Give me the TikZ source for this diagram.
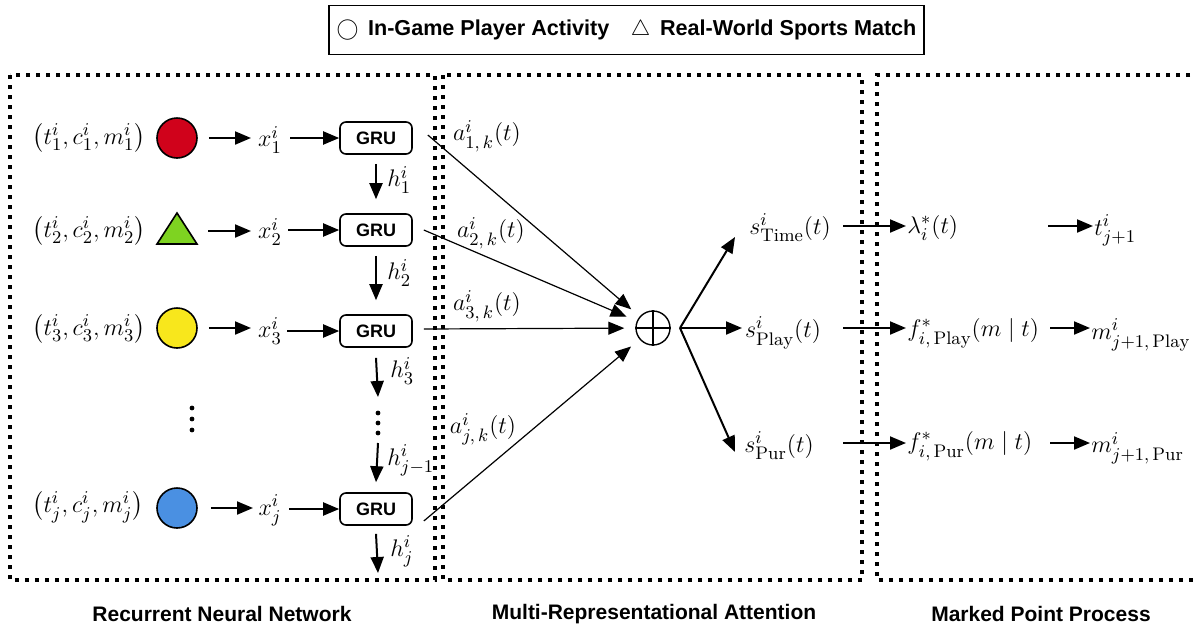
\documentclass[tikz,border=0pt]{standalone}
\usepackage{amsmath}
\usepackage{fontspec}
\setsansfont{Liberation Sans}
\usetikzlibrary{arrows.meta,calc}
\definecolor{cred}{HTML}{D0021B}
\definecolor{cgreen}{HTML}{7ED321}
\definecolor{cyellow}{HTML}{F8E71C}
\definecolor{cblue}{HTML}{4A90E2}
\tikzset{
  dotbox/.style={line width=2pt, dash pattern=on 2pt off 3pt},
  arr/.style={-{Triangle[length=8pt,width=6.5pt]}, line width=1pt},
  attn/.style={-{Triangle[length=8pt,width=6.5pt]}, line width=0.6pt},
  gru/.style={draw, rounded corners=3pt, minimum width=36pt, minimum height=16pt, line width=0.8pt, inner sep=0pt, font=\sffamily\bfseries\fontsize{9}{10}\selectfont},
  mth/.style={font=\fontsize{13}{15}\selectfont, inner sep=0.5pt},
  ev/.style={circle, draw, minimum size=20pt, inner sep=0pt, line width=0.8pt},
  title/.style={font=\sffamily\bfseries\fontsize{10.5}{12}\selectfont},
}
\begin{document}
\begin{tikzpicture}[x=0.5pt,y=-0.5pt]
\useasboundingbox (0,0) rectangle (1194,633);
% legend
\node[draw, line width=0.8pt, minimum width=297.5pt, minimum height=24.5pt, font=\sffamily\bfseries\fontsize{10.8}{13}\selectfont] (legend) at (626.5,30)
  {$\bigcirc$\, In-Game Player Activity\quad $\bigtriangleup$\, Real-World Sports Match};
% dotted boxes
\draw[dotbox] (10,75) rectangle (435,580);
\draw[dotbox] (443,75) rectangle (862,580);
\draw[dotbox] (1210,75) -- (877,75) -- (877,580) -- (1210,580);
% tuples
\node[mth] (tup1) at (89,138) {$\bigl(t_1^i, c_1^i, m_1^i\bigr)$};
\node[mth] (tup2) at (89,231) {$\bigl(t_2^i, c_2^i, m_2^i\bigr)$};
\node[mth] (tup3) at (89,329) {$\bigl(t_3^i, c_3^i, m_3^i\bigr)$};
\node[mth] (tupj) at (88,507) {$\bigl(t_j^i, c_j^i, m_j^i\bigr)$};
% events
\node[ev, fill=cred] (ev1) at (177,138) {};
\draw[line width=0.8pt, fill=cgreen] (157,244) -- (197,244) -- (177,213) -- cycle;
\coordinate (ev2) at (197,231);
\node[ev, fill=cyellow] (ev3) at (177,328) {};
\node[ev, fill=cblue] (evj) at (177,508) {};
\fill (192,408) circle (1.2pt) (192,419) circle (1.2pt) (192,430) circle (1.2pt);
% x nodes
\node[mth] (x1) at (270,140) {$x_1^i$};
\node[mth] (x2) at (270,232) {$x_2^i$};
\node[mth] (x3) at (270,331) {$x_3^i$};
\node[mth] (xj) at (270,510) {$x_j^i$};
% GRU
\node[gru] (g1) at (376,138) {GRU};
\node[gru] (g2) at (376,230) {GRU};
\node[gru] (g3) at (376,331) {GRU};
\node[gru] (gj) at (376,509) {GRU};
% arrows event -> x
\draw[arr] ([xshift=5.5pt]ev1.east) -- (ev1.east -| 251,0);
\draw[arr] ([xshift=5.5pt]ev2) -- (ev2 -| 251,0);
\draw[arr] ([xshift=5.5pt]ev3.east) -- (ev3.east -| 251,0);
\draw[arr] ([xshift=6.5pt]evj.east) -- (evj.east -| 253,0);
% arrows x -> GRU
\draw[arr] (290,138) -- (g1.west);
\draw[arr] (288,230) -- (g2.west);
\draw[arr] (287,331) -- (g3.west);
\draw[arr] (289,509) -- (gj.west);
% hidden state arrows
\draw[arr] ([yshift=-4.5pt]g1.south) -- ([yshift=7pt]g2.north);
\node[mth, anchor=west] (h1) at (386,180) {$h_1^i$};
\draw[arr] ([yshift=-4.5pt]g2.south) -- ([yshift=7pt]g3.north);
\node[mth, anchor=west] (h2) at (386,273) {$h_2^i$};
\draw[arr] ([yshift=-5pt]g3.south) -- (378,397);
\node[mth, anchor=west] (h3) at (389,371) {$h_3^i$};
\fill (378,413) circle (1.2pt) (378,423) circle (1.2pt) (378,433) circle (1.2pt);
\coordinate (hd) at (378,443);
\draw[arr] (hd) -- ([yshift=5pt]gj.north);
\node[mth, anchor=west] (hj1) at (386,460) {$h_{j-1}^i$};
\coordinate (hend) at (378,573);
\draw[arr] ([yshift=-4pt]gj.south) -- (hend);
\node[mth, anchor=west] (hj) at (389,551) {$h_j^i$};
% attention
\node[circle, draw, minimum size=17pt, inner sep=0pt, line width=0.7pt] (op) at (653,328) {};
\draw[line width=0.7pt] (op.north) -- (op.south) (op.west) -- (op.east);
\draw[attn, shorten >=5.5pt] ([xshift=7.5pt,yshift=1.5pt]g1.east) -- (op);
\draw[attn, shorten >=5.5pt] ([xshift=5.5pt]g2.east) -- (op);
\draw[attn, shorten >=5.5pt] ([xshift=5.5pt,yshift=1pt]g3.east) -- (op);
\draw[attn, shorten >=5.5pt] ([xshift=5.5pt,yshift=-6pt]gj.east) -- (op);
\node[mth] (a1) at (487,136) {$a_{1,\,k}^i(t)$};
\node[mth] (a2) at (491,233) {$a_{2,\,k}^i(t)$};
\node[mth] (a3) at (487,306) {$a_{3,\,k}^i(t)$};
\node[mth] (aj) at (483,429) {$a_{j,\,k}^i(t)$};
% s nodes
\node[mth] (sT) at (790,228) {$s_{\mathrm{Time}}^i(t)$};
\node[mth] (sP) at (783,333) {$s_{\mathrm{Play}}^i(t)$};
\node[mth] (sR) at (779,446) {$s_{\mathrm{Pur}}^i(t)$};
\coordinate (opo) at (680,328);
\draw[arr] (opo) -- (735,237);
\draw[arr] (opo) -- (742,328);
\draw[arr] (opo) -- (735,452);
% right
\node[mth, anchor=west] (lam) at (906,228) {$\lambda_i^*(t)$};
\node[mth, anchor=west] (fP) at (906,333) {$f_{i,\,\mathrm{Play}}^*(m\mid t)$};
\node[mth, anchor=west] (fR) at (906,446) {$f_{i,\,\mathrm{Pur}}^*(m\mid t)$};
\node[mth, anchor=west] (tn) at (1093,230) {$t_{j+1}^i$};
\node[mth, anchor=west] (mP) at (1090,335) {$m_{j+1,\,\mathrm{Play}}^i$};
\node[mth, anchor=west] (mR) at (1090,448) {$m_{j+1,\,\mathrm{Pur}}^i$};
\draw[arr] (843,226) -- (lam.west |- 0,226);
\draw[arr] (843,328) -- (fP.west |- 0,328);
\draw[arr] (843,443) -- (fR.west |- 0,443);
\draw[arr] (1048,226) -- (tn.west |- 0,226);
\draw[arr] (1050,328) -- (mP.west |- 0,328);
\draw[arr] (1050,443) -- (mR.west |- 0,443);
% titles
\node[title] (t1) at (222,614) {Recurrent Neural Network};
\node[title] (t2) at (654,614) {Multi-Representational Attention};
\node[title] (t3) at (1041,614) {Marked Point Process};
\end{tikzpicture}
\end{document}
